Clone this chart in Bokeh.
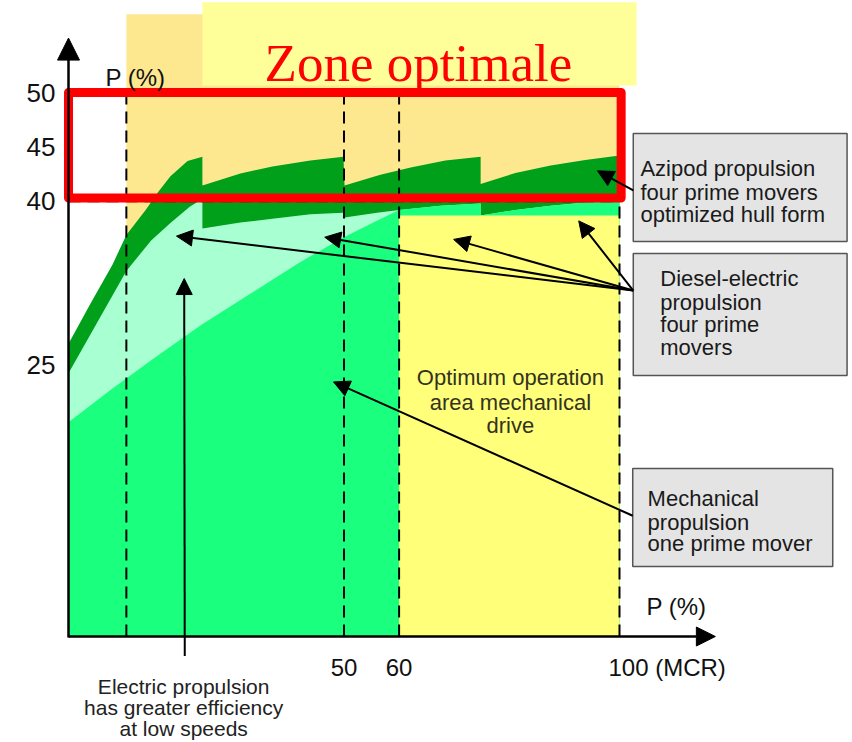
from bokeh.plotting import figure
from bokeh.models import Range1d, Arrow, NormalHead, Label
from bokeh.core.properties import value
from bokeh.embed import file_html
from bokeh.resources import INLINE

# ---------------- data (x: load in % MCR, y: P %) ----------------
# Azipod propulsion, four prime movers, optimized hull form (upper saw-tooth)
azipod_x = [0, 4, 8, 10.5, 14, 16.2, 18.5, 21.6, 24.3,
            24.3, 31.2, 37, 43.9, 49.9,
            50.1, 56.6, 62.1, 68.4, 74.8,
            74.8, 81.1, 87.5, 93.8, 100]
azipod_y = [26.9, 30.6, 34.2, 36.9, 39.2, 40.8, 42.3, 43.7, 44.1,
            41.45, 42.55, 43.2, 43.75, 44.1,
            41.45, 42.45, 43.1, 43.75, 44.1,
            41.6, 42.6, 43.3, 43.8, 44.2]
# Diesel-electric propulsion, four prime movers (lower saw-tooth)
diesel_x = [0, 5.8, 10.5, 15, 18.5, 22, 24.3,
            24.3, 31.2, 37, 43.9, 49.9,
            50.1, 56, 60, 67.5, 74.8,
            74.8, 81.1, 87.5, 93.8, 100]
diesel_y = [24.2, 29.4, 33.6, 36.4, 38.0, 39.5, 40.2,
            37.5, 38.05, 38.4, 38.8, 38.95,
            38.5, 38.95, 39.2, 39.6, 39.8,
            38.7, 39.2, 39.6, 39.9, 40.1]
# Mechanical propulsion, one prime mover
mech_x = [0, 7.5, 15, 24, 33, 42, 50, 55.5, 60]
mech_y = [19.7, 22.6, 25.4, 28.6, 31.5, 34.4, 36.7, 38.1, 39.2]
# Optimum operation area mechanical drive
opt_x = [60, 100]
opt_top = 38.7
# Optimal zone (P between 40 and 50 %)
zone_x = [0, 100]
zone_y = [40, 50]
# Reference lines
dashed_x = [10.5, 50, 60, 100]
dashed_top = 50.6
shade_x = [10.5, 100]
# Axis ticks
x_ticks = [50, 60, 100]
x_tick_labels = ["50", "60", "100 (MCR)"]
y_ticks = [25, 40, 45, 50]
y_tick_labels = ["25", "40", "45", "50"]

# ---------------- colours ----------------
DARK = "#00A01A"
MINT = "#A8FFD2"
BRIGHT = "#1AFF7E"
YELLOW = "#FFFF7A"
TAN = "#FDE890"
TITLEBOX = "#FFFF99"
SANS_NAME = "Liberation Sans"
SANS = value(SANS_NAME)

W, H = 850, 740
SX, SY = 5.51, 10.88
x0 = -68 / SX
y1 = 636 / SY
p = figure(width=W, height=H, output_backend="svg", toolbar_location=None,
           x_range=Range1d(x0, x0 + W / SX), y_range=Range1d(y1 - H / SY, y1),
           x_axis_type=None, y_axis_type=None, min_border=0)
p.outline_line_color = None
p.grid.visible = False
p.background_fill_color = "white"

# background shades
p.quad(left=shade_x[0], right=shade_x[1], bottom=0, top=57.2, fill_color=TAN, line_color=None)
p.quad(left=24.3, right=103.1, bottom=50.64, top=58.3, fill_color=TITLEBOX, line_color=None)

# areas
p.varea(x=azipod_x, y1=0, y2=azipod_y, fill_color=DARK)
p.varea(x=diesel_x, y1=0, y2=diesel_y, fill_color=MINT)
p.varea(x=mech_x, y1=0, y2=mech_y, fill_color=BRIGHT)
hx = [x for x in diesel_x if x >= opt_x[0]]
hy = [y for x, y in zip(diesel_x, diesel_y) if x >= opt_x[0]]
p.varea(x=hx, y1=0, y2=hy, fill_color=BRIGHT)
p.quad(left=opt_x[0], right=opt_x[1], bottom=0, top=opt_top, fill_color=YELLOW, line_color=None)

# dashed reference lines
p.segment(x0=dashed_x, y0=[0] * len(dashed_x), x1=dashed_x, y1=[dashed_top] * len(dashed_x),
          line_color="black", line_width=2, line_dash="12 7")
p.segment(x0=[zone_x[0]], y0=[zone_y[0]], x1=[zone_x[1]], y1=[zone_y[0]],
          line_color="black", line_width=2, line_dash="12 7")

# optimal zone frame
p.quad(left=zone_x[0], right=zone_x[1] + 0.3, bottom=zone_y[0] + 0.3, top=zone_y[1],
       fill_color=None, line_color="#FF0000", line_width=9, line_join="round")


def arrow(xs, ys, xe, ye, size=16, lw=2):
    p.add_layout(Arrow(end=NormalHead(size=size, fill_color="black", line_color="black", line_width=1),
                       x_start=xs, y_start=ys, x_end=xe, y_end=ye,
                       line_width=lw, line_color="black"))


# axes
arrow(0, -0.1, 0, 55.0, size=22, lw=2.5)
arrow(0, 0, 117.4, 0, size=19, lw=2.5)

# pointer arrows
arrow(21.1, -1.8, 21.0, 32.9)                 # electric propulsion
for tx, ty in [(19.6, 36.8), (46.5, 36.7), (69.9, 36.5), (92.6, 38.2)]:
    arrow(102.5, 31.8, tx, ty)                # diesel-electric
arrow(102.5, 41.0, 96.0, 42.8)                # azipod
arrow(102.4, 11.1, 48.1, 23.4)                # mechanical

# tick labels
p.text(x=[0] * len(y_ticks), y=y_ticks, text=y_tick_labels, x_offset=-13,
       text_align="right", text_baseline="middle", text_font=SANS,
       text_font_size="26px", text_color="#111111")
p.text(x=x_ticks, y=[0] * len(x_ticks), text=x_tick_labels,
       x_offset=[0, 0, -11], y_offset=31,
       text_align=["center", "center", "left"], text_baseline="alphabetic",
       text_font=SANS, text_font_size="24px", text_color="#111111")

p.add_layout(Label(x=6.7, y=51.4, text="P (%)", text_font=SANS_NAME, text_font_size="24px",
                   text_color="#111111", text_baseline="alphabetic"))
p.add_layout(Label(x=104.9, y=2.76, text="P (%)", text_font=SANS_NAME, text_font_size="24px",
                   text_color="#111111", text_baseline="alphabetic"))

# title
p.add_layout(Label(x=63.5, y=52.67, text="Zone optimale", text_font="Liberation Serif",
                   text_font_size="53px", text_color="#FF0000", text_align="center",
                   text_baseline="alphabetic"))

# grey boxes
p.quad(left=[102.5, 102.5, 102.4], right=[141.3, 141.3, 138.7],
       bottom=[36.3, 24.0, 6.43], top=[46.23, 35.2, 15.44],
       fill_color="#E4E4E4", line_color="#555555", line_width=1.5)


def lines(x, ys, texts, align="left", color="#1a1a1a", size="22px"):
    p.text(x=[x] * len(ys), y=ys, text=texts, text_align=align, text_baseline="alphabetic",
           text_font=SANS, text_font_size=size, text_color=color)


lines(103.8, [43.0, 40.8, 38.8], ["Azipod propulsion", "four prime movers", "optimized hull form"])
lines(107.4, [32.9, 30.7, 28.68, 26.56], ["Diesel-electric", "propulsion", "four prime", "movers"])
lines(105.1, [12.68, 10.48, 8.55], ["Mechanical", "propulsion", "one prime mover"])
lines(80.2, [23.8, 21.5, 19.39], ["Optimum operation", "area mechanical", "drive"],
      align="center", color="#33331f")
lines(20.9, [-4.6, -6.55, -8.5], ["Electric propulsion", "has greater efficiency", "at low speeds"],
      align="center", color="#222222", size="21px")

open("out.html", "w").write(file_html(p, INLINE))
